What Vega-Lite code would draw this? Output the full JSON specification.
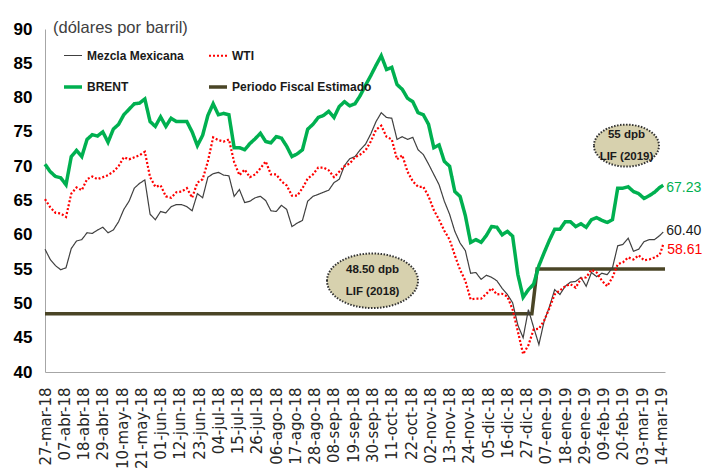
{
  "$schema": "https://vega.github.io/schema/vega-lite/v6.json",
  "width": 620,
  "height": 343,
  "autosize": {"type": "none"},
  "padding": {"left": 45, "top": 29, "right": 45, "bottom": 103},
  "background": "white",
  "title": {"text": "(dólares por barril)", "anchor": "start", "frame": "group", "offset": -16, "dx": 8, "font": "Liberation Sans", "fontSize": 16.5, "fontWeight": "normal", "color": "#404040"},
  "datasets": {
    "precios": [
      {"d":"2018-03-27","Mezcla Mexicana":57.9,"WTI":65.2,"BRENT":70.3},
      {"d":"2018-03-30","Mezcla Mexicana":56.4,"WTI":64.0,"BRENT":69.2},
      {"d":"2018-04-02","Mezcla Mexicana":55.5,"WTI":63.2,"BRENT":68.5},
      {"d":"2018-04-05","Mezcla Mexicana":54.9,"WTI":63.1,"BRENT":68.3},
      {"d":"2018-04-08","Mezcla Mexicana":55.2,"WTI":62.6,"BRENT":67.3},
      {"d":"2018-04-11","Mezcla Mexicana":58.0,"WTI":66.0,"BRENT":71.4},
      {"d":"2018-04-14","Mezcla Mexicana":59.1,"WTI":66.9,"BRENT":72.3},
      {"d":"2018-04-17","Mezcla Mexicana":59.3,"WTI":66.5,"BRENT":71.4},
      {"d":"2018-04-20","Mezcla Mexicana":60.3,"WTI":68.1,"BRENT":73.9},
      {"d":"2018-04-23","Mezcla Mexicana":60.2,"WTI":68.5,"BRENT":74.6},
      {"d":"2018-04-26","Mezcla Mexicana":60.7,"WTI":68.1,"BRENT":74.4},
      {"d":"2018-04-29","Mezcla Mexicana":61.1,"WTI":68.4,"BRENT":75.0},
      {"d":"2018-05-02","Mezcla Mexicana":60.3,"WTI":68.7,"BRENT":73.5},
      {"d":"2018-05-05","Mezcla Mexicana":60.7,"WTI":69.2,"BRENT":75.4},
      {"d":"2018-05-08","Mezcla Mexicana":61.9,"WTI":70.0,"BRENT":76.1},
      {"d":"2018-05-11","Mezcla Mexicana":63.7,"WTI":71.3,"BRENT":77.5},
      {"d":"2018-05-14","Mezcla Mexicana":64.9,"WTI":71.0,"BRENT":78.3},
      {"d":"2018-05-17","Mezcla Mexicana":66.8,"WTI":71.3,"BRENT":79.1},
      {"d":"2018-05-20","Mezcla Mexicana":67.5,"WTI":71.6,"BRENT":79.2},
      {"d":"2018-05-23","Mezcla Mexicana":68.0,"WTI":72.1,"BRENT":79.8},
      {"d":"2018-05-26","Mezcla Mexicana":63.0,"WTI":68.4,"BRENT":76.5},
      {"d":"2018-05-29","Mezcla Mexicana":62.2,"WTI":67.0,"BRENT":75.8},
      {"d":"2018-06-01","Mezcla Mexicana":63.4,"WTI":67.2,"BRENT":77.2},
      {"d":"2018-06-04","Mezcla Mexicana":63.2,"WTI":65.6,"BRENT":75.8},
      {"d":"2018-06-07","Mezcla Mexicana":64.1,"WTI":65.4,"BRENT":77.0},
      {"d":"2018-06-10","Mezcla Mexicana":64.4,"WTI":66.2,"BRENT":76.5},
      {"d":"2018-06-13","Mezcla Mexicana":64.4,"WTI":66.3,"BRENT":76.5},
      {"d":"2018-06-16","Mezcla Mexicana":64.1,"WTI":66.8,"BRENT":76.5},
      {"d":"2018-06-19","Mezcla Mexicana":63.5,"WTI":65.4,"BRENT":75.0},
      {"d":"2018-06-22","Mezcla Mexicana":66.0,"WTI":67.6,"BRENT":73.0},
      {"d":"2018-06-25","Mezcla Mexicana":65.4,"WTI":68.1,"BRENT":74.5},
      {"d":"2018-06-28","Mezcla Mexicana":68.4,"WTI":70.7,"BRENT":77.4},
      {"d":"2018-07-01","Mezcla Mexicana":68.9,"WTI":74.2,"BRENT":79.1},
      {"d":"2018-07-04","Mezcla Mexicana":69.1,"WTI":73.8,"BRENT":77.5},
      {"d":"2018-07-07","Mezcla Mexicana":68.7,"WTI":73.6,"BRENT":77.7},
      {"d":"2018-07-10","Mezcla Mexicana":68.6,"WTI":73.9,"BRENT":77.5},
      {"d":"2018-07-13","Mezcla Mexicana":65.6,"WTI":70.6,"BRENT":72.7},
      {"d":"2018-07-16","Mezcla Mexicana":66.6,"WTI":68.7,"BRENT":72.7},
      {"d":"2018-07-19","Mezcla Mexicana":64.7,"WTI":69.5,"BRENT":72.4},
      {"d":"2018-07-22","Mezcla Mexicana":64.9,"WTI":68.4,"BRENT":73.3},
      {"d":"2018-07-25","Mezcla Mexicana":65.4,"WTI":68.8,"BRENT":74.0},
      {"d":"2018-07-28","Mezcla Mexicana":65.6,"WTI":69.7,"BRENT":74.8},
      {"d":"2018-07-31","Mezcla Mexicana":65.0,"WTI":70.7,"BRENT":73.6},
      {"d":"2018-08-03","Mezcla Mexicana":63.5,"WTI":68.8,"BRENT":73.4},
      {"d":"2018-08-06","Mezcla Mexicana":63.4,"WTI":68.8,"BRENT":74.3},
      {"d":"2018-08-09","Mezcla Mexicana":64.3,"WTI":67.8,"BRENT":74.1},
      {"d":"2018-08-12","Mezcla Mexicana":63.7,"WTI":67.2,"BRENT":72.9},
      {"d":"2018-08-15","Mezcla Mexicana":61.2,"WTI":65.7,"BRENT":71.4},
      {"d":"2018-08-18","Mezcla Mexicana":61.7,"WTI":65.7,"BRENT":71.8},
      {"d":"2018-08-21","Mezcla Mexicana":62.1,"WTI":66.8,"BRENT":72.4},
      {"d":"2018-08-24","Mezcla Mexicana":64.9,"WTI":68.2,"BRENT":75.4},
      {"d":"2018-08-27","Mezcla Mexicana":65.6,"WTI":68.8,"BRENT":76.1},
      {"d":"2018-08-30","Mezcla Mexicana":65.9,"WTI":69.8,"BRENT":77.1},
      {"d":"2018-09-02","Mezcla Mexicana":66.2,"WTI":69.8,"BRENT":77.4},
      {"d":"2018-09-05","Mezcla Mexicana":66.5,"WTI":69.4,"BRENT":78.0},
      {"d":"2018-09-08","Mezcla Mexicana":67.6,"WTI":68.4,"BRENT":77.1},
      {"d":"2018-09-11","Mezcla Mexicana":68.1,"WTI":69.2,"BRENT":78.7},
      {"d":"2018-09-14","Mezcla Mexicana":70.1,"WTI":70.0,"BRENT":79.4},
      {"d":"2018-09-17","Mezcla Mexicana":71.1,"WTI":70.4,"BRENT":78.8},
      {"d":"2018-09-20","Mezcla Mexicana":71.4,"WTI":71.3,"BRENT":79.1},
      {"d":"2018-09-23","Mezcla Mexicana":72.4,"WTI":71.7,"BRENT":80.3},
      {"d":"2018-09-26","Mezcla Mexicana":73.2,"WTI":72.3,"BRENT":81.8},
      {"d":"2018-09-29","Mezcla Mexicana":74.7,"WTI":73.6,"BRENT":83.2},
      {"d":"2018-10-02","Mezcla Mexicana":76.5,"WTI":75.3,"BRENT":84.7},
      {"d":"2018-10-05","Mezcla Mexicana":77.8,"WTI":75.9,"BRENT":86.1},
      {"d":"2018-10-08","Mezcla Mexicana":77.1,"WTI":74.3,"BRENT":84.1},
      {"d":"2018-10-11","Mezcla Mexicana":77.0,"WTI":73.9,"BRENT":84.4},
      {"d":"2018-10-14","Mezcla Mexicana":73.9,"WTI":71.0,"BRENT":81.9},
      {"d":"2018-10-17","Mezcla Mexicana":74.3,"WTI":71.6,"BRENT":81.2},
      {"d":"2018-10-20","Mezcla Mexicana":73.9,"WTI":69.2,"BRENT":79.9},
      {"d":"2018-10-23","Mezcla Mexicana":74.2,"WTI":67.8,"BRENT":79.4},
      {"d":"2018-10-26","Mezcla Mexicana":72.4,"WTI":67.0,"BRENT":77.8},
      {"d":"2018-10-29","Mezcla Mexicana":71.7,"WTI":67.0,"BRENT":77.5},
      {"d":"2018-11-01","Mezcla Mexicana":70.3,"WTI":65.6,"BRENT":76.1},
      {"d":"2018-11-04","Mezcla Mexicana":68.8,"WTI":63.6,"BRENT":72.7},
      {"d":"2018-11-07","Mezcla Mexicana":67.3,"WTI":62.2,"BRENT":73.1},
      {"d":"2018-11-10","Mezcla Mexicana":64.9,"WTI":60.6,"BRENT":70.7},
      {"d":"2018-11-13","Mezcla Mexicana":63.0,"WTI":59.3,"BRENT":70.0},
      {"d":"2018-11-16","Mezcla Mexicana":60.5,"WTI":57.0,"BRENT":66.3},
      {"d":"2018-11-19","Mezcla Mexicana":58.8,"WTI":54.9,"BRENT":65.6},
      {"d":"2018-11-22","Mezcla Mexicana":57.7,"WTI":53.3,"BRENT":62.8},
      {"d":"2018-11-25","Mezcla Mexicana":54.4,"WTI":50.6,"BRENT":58.9},
      {"d":"2018-11-28","Mezcla Mexicana":54.5,"WTI":50.7,"BRENT":59.3},
      {"d":"2018-12-01","Mezcla Mexicana":53.5,"WTI":50.7,"BRENT":58.9},
      {"d":"2018-12-04","Mezcla Mexicana":54.1,"WTI":51.4,"BRENT":59.9},
      {"d":"2018-12-07","Mezcla Mexicana":53.8,"WTI":52.2,"BRENT":61.2},
      {"d":"2018-12-10","Mezcla Mexicana":53.3,"WTI":51.3,"BRENT":61.1},
      {"d":"2018-12-13","Mezcla Mexicana":52.2,"WTI":51.4,"BRENT":60.0},
      {"d":"2018-12-16","Mezcla Mexicana":51.3,"WTI":51.0,"BRENT":60.5},
      {"d":"2018-12-19","Mezcla Mexicana":50.1,"WTI":49.1,"BRENT":59.8},
      {"d":"2018-12-22","Mezcla Mexicana":46.8,"WTI":45.9,"BRENT":54.2},
      {"d":"2018-12-25","Mezcla Mexicana":45.0,"WTI":42.6,"BRENT":50.9},
      {"d":"2018-12-28","Mezcla Mexicana":49.1,"WTI":43.9,"BRENT":52.0},
      {"d":"2018-12-31","Mezcla Mexicana":46.5,"WTI":46.2,"BRENT":52.8},
      {"d":"2019-01-03","Mezcla Mexicana":44.0,"WTI":46.3,"BRENT":55.5},
      {"d":"2019-01-06","Mezcla Mexicana":47.4,"WTI":47.5,"BRENT":57.4},
      {"d":"2019-01-09","Mezcla Mexicana":49.5,"WTI":49.3,"BRENT":59.2},
      {"d":"2019-01-12","Mezcla Mexicana":52.0,"WTI":51.3,"BRENT":60.8},
      {"d":"2019-01-15","Mezcla Mexicana":51.3,"WTI":51.9,"BRENT":60.8},
      {"d":"2019-01-18","Mezcla Mexicana":52.5,"WTI":52.5,"BRENT":61.9},
      {"d":"2019-01-21","Mezcla Mexicana":53.1,"WTI":52.8,"BRENT":61.9},
      {"d":"2019-01-24","Mezcla Mexicana":53.2,"WTI":52.3,"BRENT":61.2},
      {"d":"2019-01-27","Mezcla Mexicana":53.8,"WTI":53.6,"BRENT":61.6},
      {"d":"2019-01-30","Mezcla Mexicana":52.5,"WTI":53.8,"BRENT":61.1},
      {"d":"2019-02-02","Mezcla Mexicana":54.5,"WTI":54.9,"BRENT":62.2},
      {"d":"2019-02-05","Mezcla Mexicana":53.9,"WTI":54.5,"BRENT":62.5},
      {"d":"2019-02-08","Mezcla Mexicana":54.4,"WTI":53.3,"BRENT":62.1},
      {"d":"2019-02-11","Mezcla Mexicana":54.2,"WTI":52.5,"BRENT":61.8},
      {"d":"2019-02-14","Mezcla Mexicana":55.2,"WTI":53.8,"BRENT":62.2},
      {"d":"2019-02-17","Mezcla Mexicana":58.4,"WTI":55.7,"BRENT":66.8},
      {"d":"2019-02-20","Mezcla Mexicana":58.6,"WTI":56.0,"BRENT":66.8},
      {"d":"2019-02-23","Mezcla Mexicana":59.5,"WTI":56.7,"BRENT":67.0},
      {"d":"2019-02-26","Mezcla Mexicana":57.6,"WTI":56.4,"BRENT":66.3},
      {"d":"2019-03-01","Mezcla Mexicana":57.9,"WTI":57.0,"BRENT":66.0},
      {"d":"2019-03-04","Mezcla Mexicana":59.0,"WTI":56.3,"BRENT":65.3},
      {"d":"2019-03-07","Mezcla Mexicana":59.3,"WTI":56.4,"BRENT":65.7},
      {"d":"2019-03-10","Mezcla Mexicana":59.3,"WTI":56.7,"BRENT":66.2},
      {"d":"2019-03-13","Mezcla Mexicana":59.9,"WTI":57.1,"BRENT":66.9},
      {"d":"2019-03-15","Mezcla Mexicana":60.4,"WTI":58.61,"BRENT":67.23}
    ],
    "fiscal": [
      {"d":"2018-03-27","s":"Periodo Fiscal Estimado","v":48.5},
      {"d":"2018-12-30","s":"Periodo Fiscal Estimado","v":48.5},
      {"d":"2019-01-02","s":"Periodo Fiscal Estimado","v":55},
      {"d":"2019-03-16","s":"Periodo Fiscal Estimado","v":55}
    ],
    "etiquetas": [
      {"d":"2019-03-15","s":"BRENT","v":67.23,"t":"67.23"},
      {"d":"2019-03-15","s":"Mezcla Mexicana","v":60.4,"t":"60.40"},
      {"d":"2019-03-15","s":"WTI","v":58.61,"t":"58.61"}
    ],
    "elipses": [
      {"id":"2018","d":"2018-09-30","v":53.3,"t":"48.50 dpb\nLIF (2018)"},
      {"id":"2019","d":"2019-02-22","v":73.0,"t":"55 dpb\nLIF (2019)"}
    ]
  },
  "encoding": {
    "x": {
      "field": "d", "type": "temporal",
      "scale": {"domain": [{"year": 2018, "month": 3, "date": 27, "utc": true}, {"year": 2019, "month": 3, "date": 16, "utc": true}]},
      "axis": {
        "values": [
          {"year":2018,"month":3,"date":27,"utc":true},{"year":2018,"month":4,"date":7,"utc":true},{"year":2018,"month":4,"date":18,"utc":true},{"year":2018,"month":4,"date":29,"utc":true},
          {"year":2018,"month":5,"date":10,"utc":true},{"year":2018,"month":5,"date":21,"utc":true},{"year":2018,"month":6,"date":1,"utc":true},{"year":2018,"month":6,"date":12,"utc":true},
          {"year":2018,"month":6,"date":23,"utc":true},{"year":2018,"month":7,"date":4,"utc":true},{"year":2018,"month":7,"date":15,"utc":true},{"year":2018,"month":7,"date":26,"utc":true},
          {"year":2018,"month":8,"date":6,"utc":true},{"year":2018,"month":8,"date":17,"utc":true},{"year":2018,"month":8,"date":28,"utc":true},{"year":2018,"month":9,"date":8,"utc":true},
          {"year":2018,"month":9,"date":19,"utc":true},{"year":2018,"month":9,"date":30,"utc":true},{"year":2018,"month":10,"date":11,"utc":true},{"year":2018,"month":10,"date":22,"utc":true},
          {"year":2018,"month":11,"date":2,"utc":true},{"year":2018,"month":11,"date":13,"utc":true},{"year":2018,"month":11,"date":24,"utc":true},{"year":2018,"month":12,"date":5,"utc":true},
          {"year":2018,"month":12,"date":16,"utc":true},{"year":2018,"month":12,"date":27,"utc":true},{"year":2019,"month":1,"date":7,"utc":true},{"year":2019,"month":1,"date":18,"utc":true},
          {"year":2019,"month":1,"date":29,"utc":true},{"year":2019,"month":2,"date":9,"utc":true},{"year":2019,"month":2,"date":20,"utc":true},{"year":2019,"month":3,"date":3,"utc":true},
          {"year":2019,"month":3,"date":14,"utc":true}
        ],
        "labelExpr": "utcFormat(datum.value, '%d') + '-' + ['ene','feb','mar','abr','may','jun','jul','ago','sep','oct','nov','dic'][utcmonth(datum.value)] + '-' + utcFormat(datum.value, '%y')",
        "labelAngle": -90, "labelAlign": "right", "labelBaseline": "middle",
        "labelFont": "DejaVu Sans", "labelFontSize": 15, "labelColor": "#262626",
        "labelPadding": 15, "ticks": false, "tickSize": 0, "grid": false,
        "domainColor": "#a6a6a6", "domainWidth": 1, "title": null,
        "labelOverlap": false, "labelBound": false, "labelFlush": false
      }
    },
    "y": {
      "field": "v", "type": "quantitative",
      "scale": {"domain": [40, 90], "nice": false, "zero": false},
      "axis": {
        "values": [40, 45, 50, 55, 60, 65, 70, 75, 80, 85, 90],
        "labelFont": "Liberation Sans",
        "labelFontWeight": "bold", "labelFontSize": 17, "labelColor": "#000000",
        "labelPadding": 13, "ticks": false, "tickSize": 0, "grid": false,
        "domainColor": "#a6a6a6", "domainWidth": 1, "title": null,
        "labelOverlap": false, "labelBound": false, "labelFlush": false
      }
    }
  },
  "layer": [
    {
      "data": {"name": "fiscal"},
      "mark": {"type": "line", "strokeCap": "butt"},
      "encoding": {
        "color": {"field": "s", "type": "nominal", "title": null, "scale": {"domain": ["Mezcla Mexicana", "WTI", "BRENT", "Periodo Fiscal Estimado"], "range": ["#404040", "#ff0000", "#00b050", "#4a4526"]}},
        "strokeDash": {"field": "s", "type": "nominal", "title": null, "scale": {"domain": ["Mezcla Mexicana", "WTI", "BRENT", "Periodo Fiscal Estimado"], "range": [[1, 0], [2, 2], [1, 0], [1, 0]]}},
        "strokeWidth": {"field": "s", "type": "nominal", "title": null, "scale": {"type": "ordinal", "domain": ["Mezcla Mexicana", "WTI", "BRENT", "Periodo Fiscal Estimado"], "range": [1.2, 2.2, 3.5, 3.5]}}
      }
    },
    {
      "data": {"name": "precios"},
      "transform": [{"fold": ["Mezcla Mexicana", "WTI", "BRENT"], "as": ["s", "v"]}],
      "mark": {"type": "line", "strokeCap": "butt"},
      "encoding": {
        "color": {"field": "s", "type": "nominal", "title": null, "scale": {"domain": ["Mezcla Mexicana", "WTI", "BRENT", "Periodo Fiscal Estimado"], "range": ["#404040", "#ff0000", "#00b050", "#4a4526"]}},
        "strokeDash": {"field": "s", "type": "nominal", "title": null, "scale": {"domain": ["Mezcla Mexicana", "WTI", "BRENT", "Periodo Fiscal Estimado"], "range": [[1, 0], [2, 2], [1, 0], [1, 0]]}},
        "strokeWidth": {"field": "s", "type": "nominal", "title": null, "scale": {"type": "ordinal", "domain": ["Mezcla Mexicana", "WTI", "BRENT", "Periodo Fiscal Estimado"], "range": [1.2, 2.2, 3.5, 3.5]}}
      }
    },
    {
      "data": {"name": "etiquetas"},
      "transform": [{"filter": "datum.s === 'BRENT'"}],
      "mark": {"type": "text", "align": "left", "baseline": "middle", "dx": 3, "dy": 3, "font": "Liberation Sans", "fontSize": 14, "color": "#00b050"},
      "encoding": {"text": {"field": "t"}}
    },
    {
      "data": {"name": "etiquetas"},
      "transform": [{"filter": "datum.s === 'Mezcla Mexicana'"}],
      "mark": {"type": "text", "align": "left", "baseline": "middle", "dx": 3, "dy": -1, "font": "Liberation Sans", "fontSize": 14, "color": "#1a1a1a"},
      "encoding": {"text": {"field": "t"}}
    },
    {
      "data": {"name": "etiquetas"},
      "transform": [{"filter": "datum.s === 'WTI'"}],
      "mark": {"type": "text", "align": "left", "baseline": "middle", "dx": 4, "dy": 6, "font": "Liberation Sans", "fontSize": 14, "color": "#ff0000"},
      "encoding": {"text": {"field": "t"}}
    },
    {
      "data": {"name": "elipses"},
      "transform": [{"filter": "datum.id === '2018'"}],
      "mark": {"type": "point", "shape": "M -1 0 C -1 -0.3314 -0.5523 -0.6 0 -0.6 C 0.5523 -0.6 1 -0.3314 1 0 C 1 0.3314 0.5523 0.6 0 0.6 C -0.5523 0.6 -1 0.3314 -1 0 Z", "size": 8281, "filled": true, "fill": "#d7d1ae", "stroke": "#333333", "strokeWidth": 2, "strokeDash": [1.5, 1.5], "opacity": 1, "fillOpacity": 1, "strokeOpacity": 1}
    },
    {
      "data": {"name": "elipses"},
      "transform": [{"filter": "datum.id === '2019'"}],
      "mark": {"type": "point", "shape": "M -1 0 C -1 -0.3568 -0.5523 -0.646 0 -0.646 C 0.5523 -0.646 1 -0.3568 1 0 C 1 0.3568 0.5523 0.646 0 0.646 C -0.5523 0.646 -1 0.3568 -1 0 Z", "size": 4225, "filled": true, "fill": "#d7d1ae", "stroke": "#333333", "strokeWidth": 2, "strokeDash": [1.5, 1.5], "opacity": 1, "fillOpacity": 1, "strokeOpacity": 1}
    },
    {
      "data": {"name": "elipses"},
      "mark": {"type": "text", "lineBreak": "\n", "align": "center", "baseline": "middle", "dy": -11, "font": "Liberation Sans", "fontWeight": "bold", "fontSize": 11.5, "lineHeight": 22, "color": "#1a1a1a"},
      "encoding": {"text": {"field": "t"}}
    }
  ],
  "config": {
    "view": {"stroke": null},
    "legend": {
      "orient": "none", "legendX": 17, "legendY": 16, "columns": 2, "direction": "horizontal",
      "columnPadding": 18, "rowPadding": 14, "symbolType": "stroke", "symbolSize": 324,
      "labelFont": "Liberation Sans",
      "labelFontWeight": "bold", "labelFontSize": 12, "labelColor": "#1a1a1a",
      "labelOffset": 3, "padding": 0
    }
  }
}
